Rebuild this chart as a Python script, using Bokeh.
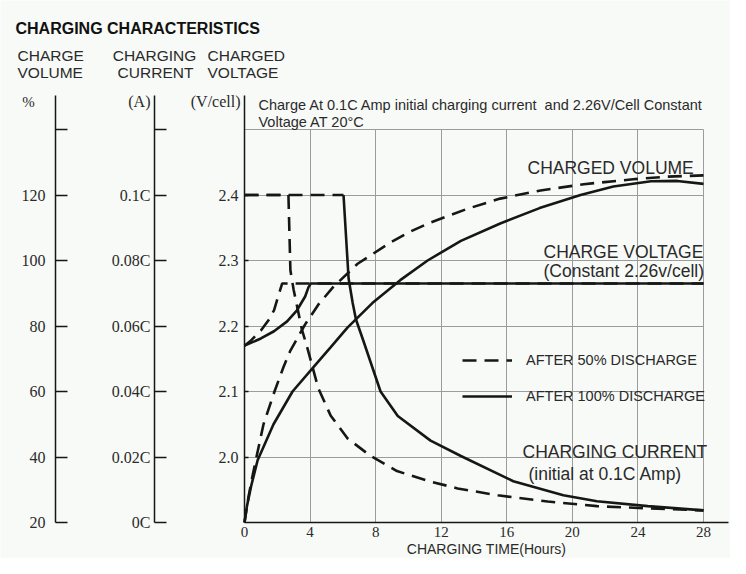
from bokeh.plotting import figure
from bokeh.models import Range1d, LinearAxis, FixedTicker, Label, Legend, LegendItem
from bokeh.embed import file_html
from bokeh.resources import INLINE

# ---------------- data ----------------
hour_ticks = [0, 4, 8, 12, 16, 20, 24, 28]
volt_ticks = [2.0, 2.1, 2.2, 2.3, 2.4]
volt_labels = ["2.0", "2.1", "2.2", "2.3", "2.4"]
volt_grid = [2.0, 2.1, 2.2, 2.3, 2.4, 2.5]
vol_ticks = [20, 40, 60, 80, 100, 120, 140]
vol_labels = ["20", "40", "60", "80", "100", "120", ""]
cur_ticks = [0.0, 0.02, 0.04, 0.06, 0.08, 0.1, 0.12]
cur_labels = ["0C", "0.02C", "0.04C", "0.06C", "0.08C", "0.1C", ""]

# charging current (C) after 50% discharge
cur50_t = [0, 2.68, 2.80, 3.0, 3.25, 3.5, 3.85, 4.5, 5.25, 6.3, 7.7, 9.3, 11.35, 13.0, 15.45, 18.5, 21.5, 24.6, 28.0]
cur50_c = [0.1, 0.1, 0.077, 0.071, 0.065, 0.059, 0.053, 0.041, 0.0327, 0.0256, 0.0203, 0.0157, 0.0125, 0.0104, 0.0083, 0.0064, 0.0050, 0.0043, 0.0037]
# charging current (C) after 100% discharge
cur100_t = [0, 6.04, 6.35, 6.6, 6.8, 7.25, 8.3, 9.35, 11.35, 13.2, 16.4, 19.45, 21.5, 24.6, 28.0]
cur100_c = [0.1, 0.1, 0.0745, 0.067, 0.062, 0.0555, 0.040, 0.0325, 0.025, 0.0203, 0.0126, 0.0083, 0.0065, 0.005, 0.0037]

# charge voltage (V/cell)
volt50_t = [0, 0.4, 1.0, 1.5, 1.8, 2.05, 2.3, 28.0]
volt50_v = [2.17, 2.178, 2.193, 2.21, 2.224, 2.245, 2.265, 2.265]
volt100_t = [0, 1.0, 1.8, 2.6, 3.2, 3.7, 3.9, 4.05, 28.0]
volt100_v = [2.17, 2.181, 2.192, 2.207, 2.224, 2.245, 2.259, 2.265, 2.265]

# charged volume (%)
vol50_t = [0, 0.25, 0.5, 0.73, 1.16, 1.83, 2.38, 2.8, 3.7, 4.5, 5.43, 6.9, 8.9, 10.1, 11.35, 13.6, 15.6, 18.06, 20.7, 23.7, 25.8, 28.0]
vol50_p = [20, 28, 34.5, 40, 50, 60, 67.5, 72.5, 80.5, 86.5, 92, 99, 105.5, 108.8, 111.6, 115.8, 118.9, 121.4, 123.3, 124.8, 125.6, 126.0]
vol100_t = [0, 0.15, 0.4, 0.8, 1.77, 2.93, 4.3, 5.25, 6.28, 7.8, 9.5, 11.17, 13.2, 15.6, 18.0, 20.5, 22.5, 24.8, 26.4, 28.0]
vol100_p = [20, 25, 31, 39, 50, 60, 68, 73.5, 79.5, 87, 94, 100, 106, 111.3, 116, 120, 122.6, 124.2, 124.3, 123.4]

# ---------------- layout (pixels from the picture's top-left) ----------------
W, H = 730, 558
X0, Y0 = 244, 522          # pixel of (0 h, 1.9 V)
AX_TOP = 95                # top end of the vertical axes
AX_RIGHT = 728             # right end of the time axis
X_CUR, X_VOL = 154, 55     # pixel columns of the current and volume axes
px_per_h = (703 - X0) / 28.0
px_per_v = 655.0

def hx(px):   # pixel column -> hours
    return (px - X0) / px_per_h

def vy(py):   # pixel row -> volts
    return 1.9 + (Y0 - py) / px_per_v

v_lo, v_hi = vy(H), vy(0)
v_axis_top = vy(AX_TOP)

BG = "#f8faf7"
INK = "#161616"
TXT = "#2a2a2a"

p = figure(width=W, height=H, output_backend="svg", toolbar_location=None,
           x_range=Range1d(hx(0), hx(W)), y_range=Range1d(v_lo, v_hi), title=None,
           min_border=0, background_fill_color=BG, border_fill_color=BG)
p.outline_line_color = None

# other scales: 0C and 20 % sit at 1.9 V, 0.1C and 120 % at 2.4 V
p.extra_y_ranges = {
    "cur": Range1d((v_lo - 1.9) * 0.2, (v_hi - 1.9) * 0.2),
    "vol": Range1d(20 + (v_lo - 1.9) * 200, 20 + (v_hi - 1.9) * 200),
}

def style_axis(ax, standoff, tick_in):
    ax.axis_line_color = INK
    ax.axis_line_width = 1.5
    ax.major_tick_line_color = INK
    ax.major_tick_line_width = 1.5
    ax.major_tick_in = tick_in
    ax.major_tick_out = 0
    ax.minor_tick_line_color = None
    ax.major_label_text_font = "Liberation Serif"
    ax.major_label_text_font_size = "16px"
    ax.major_label_text_color = TXT
    ax.major_label_standoff = standoff

# voltage axis
yv = p.yaxis[0]
yv.fixed_location = 0
yv.bounds = (1.9, v_axis_top)
yv.ticker = FixedTicker(ticks=volt_ticks)
yv.major_label_overrides = dict(zip(volt_ticks, volt_labels))
style_axis(yv, 6, 4)

# current axis
ya = LinearAxis(y_range_name="cur", fixed_location=hx(X_CUR),
                bounds=(0, (v_axis_top - 1.9) * 0.2),
                ticker=FixedTicker(ticks=cur_ticks),
                major_label_overrides=dict(zip(cur_ticks, cur_labels)))
style_axis(ya, 4, 12)
p.add_layout(ya, "left")

# volume axis
yp = LinearAxis(y_range_name="vol", fixed_location=hx(X_VOL),
                bounds=(20, 20 + (v_axis_top - 1.9) * 200),
                ticker=FixedTicker(ticks=vol_ticks),
                major_label_overrides=dict(zip(vol_ticks, vol_labels)))
style_axis(yp, 10, 12)
p.add_layout(yp, "left")

# time axis
xa = p.xaxis[0]
xa.fixed_location = 1.9
xa.bounds = (0, hx(AX_RIGHT))
xa.ticker = FixedTicker(ticks=hour_ticks)
xa.axis_line_color = INK
xa.axis_line_width = 1.5
xa.major_tick_in = 0
xa.major_tick_out = 0
xa.minor_tick_line_color = None
xa.major_label_text_font = "Liberation Serif"
xa.major_label_text_font_size = "15px"
xa.major_label_text_color = TXT
xa.major_label_standoff = 4
xa.axis_label = "CHARGING TIME(Hours)"
xa.axis_label_text_font = "Liberation Sans"
xa.axis_label_text_font_style = "normal"
xa.axis_label_text_font_size = "14px"
xa.axis_label_text_color = TXT
xa.axis_label_standoff = 1

# grids
p.xgrid.ticker = FixedTicker(ticks=hour_ticks)
p.xgrid.cross_bounds = (1.9, 2.5)
p.ygrid.ticker = FixedTicker(ticks=volt_grid)
p.ygrid.cross_bounds = (0, 28)
for g in (p.xgrid, p.ygrid):
    g.grid_line_color = "#9c9c9c"
    g.grid_line_width = 1

DASH = "14 8"
LW = 2.6

# curves
r_c50 = p.line(cur50_t, cur50_c, y_range_name="cur", line_dash=DASH, line_width=LW, line_color=INK)
p.line(cur100_t[:2], cur100_c[:2], y_range_name="cur", line_dash=DASH, line_width=LW, line_color=INK)
r_c100 = p.line(cur100_t[1:], cur100_c[1:], y_range_name="cur", line_width=LW, line_color=INK)

p.line(volt50_t, volt50_v, line_dash=DASH, line_width=LW, line_color=INK)
p.line(volt100_t, volt100_v, line_width=LW, line_color=INK)

p.line(vol50_t, vol50_p, y_range_name="vol", line_dash=DASH, line_width=LW, line_color=INK)
p.line(vol100_t, vol100_p, y_range_name="vol", line_width=LW, line_color=INK)

# legend
legend = Legend(items=[LegendItem(label="AFTER 50% DISCHARGE", renderers=[r_c50]),
                       LegendItem(label="AFTER 100% DISCHARGE", renderers=[r_c100])],
                location=(462, H - 406), orientation="vertical",
                glyph_width=50, glyph_height=20, label_height=20, label_standoff=14,
                spacing=16, padding=0, margin=0,
                border_line_color=None, background_fill_alpha=0,
                label_text_font="Liberation Sans", label_text_font_size="14.5px",
                label_text_color=TXT)
p.add_layout(legend)

def txt(text, px, py, size, align="left", font="Liberation Sans", style="normal", color=TXT):
    p.add_layout(Label(x=px, y=H - py, x_units="screen", y_units="screen",
                       text=text, text_font=font, text_font_size=size,
                       text_font_style=style, text_color=color,
                       text_align=align, text_baseline="middle"))

txt("CHARGING CHARACTERISTICS", 15, 28, "16px", style="bold", color="#111111")
txt("CHARGE", 17, 55, "15.5px")
txt("VOLUME", 17, 72, "15.5px")
txt("CHARGING", 154, 55, "15.5px", align="center")
txt("CURRENT", 155, 72, "15.5px", align="center")
txt("CHARGED", 207, 55, "15.5px")
txt("VOLTAGE", 207, 72, "15.5px")
txt("%", 28, 101, "15px", align="center", font="Liberation Serif")
txt("(A)", 150, 101, "16px", align="right", font="Liberation Serif")
txt("(V/cell)", 240, 101, "16px", align="right", font="Liberation Serif")
txt("Charge At 0.1C Amp initial charging current\u00a0 and 2.26V/Cell Constant", 258, 104, "14.5px")
txt("Voltage AT 20\u00b0C", 258, 121, "14.5px")
txt("CHARGED VOLUME", 527, 167, "17.5px")
txt("CHARGE VOLTAGE", 543, 251, "17.5px")
txt("(Constant 2.26v/cell)", 543, 270, "17.5px")
txt("CHARGING CURRENT", 522, 451, "17.5px")
txt("(initial at 0.1C Amp)", 528, 473, "17.5px")

open("out.html", "w").write(file_html(p, INLINE))
